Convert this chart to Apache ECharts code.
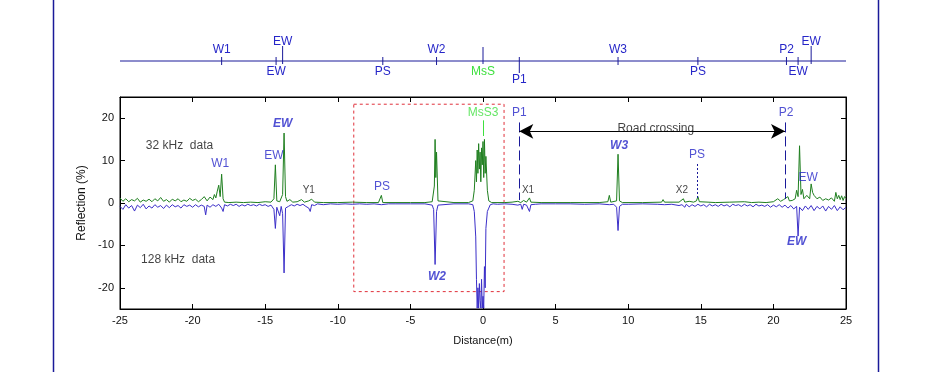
<!DOCTYPE html>
<html><head><meta charset="utf-8">
<script src="https://cdn.jsdelivr.net/npm/echarts@6/dist/echarts.min.js"></script>
<style>html,body{margin:0;padding:0;background:#fff}#c{width:933px;height:372px}</style>
</head><body><div id="c"></div>
<script>
// ---- data ----
const xTicks = [-25,-20,-15,-10,-5,0,5,10,15,20,25];
const yTicks = [-20,-10,0,10,20];

// 32 kHz data [distance m, reflection %]
const data32 = [
[-25,1.2],[-24.8,0.4],[-24.6,1.0],[-24.4,0.3],[-24.2,0.8],[-24,0.5],[-23.8,1.1],[-23.6,0.2],[-23.4,0.7],[-23.2,0.4],
[-23,0.9],[-22.8,0.3],[-22.6,1.0],[-22.4,0.5],[-22.2,1.3],[-22,0.4],[-21.8,0.8],[-21.6,0.2],[-21.4,0.9],[-21.2,0.5],
[-21,1.0],[-20.8,0.3],[-20.6,0.7],[-20.4,0.4],[-20.2,1.1],[-20,0.6],[-19.8,0.9],[-19.6,0.3],[-19.4,0.8],[-19.2,1.5],
[-19,0.5],[-18.8,1.4],[-18.6,0.8],[-18.5,2.0],[-18.4,1.2],[-18.3,2.8],[-18.2,4.2],[-18.1,1.5],[-18,6.8],[-17.9,1.0],
[-17.8,0.2],[-17.5,0.1],[-17,0.2],[-16.5,0.1],[-16,0.2],[-15.5,0.1],[-15,0.3],[-14.6,0.2],[-14.4,1.0],[-14.3,9.0],
[-14.2,0.5],[-14,0.3],[-13.8,2.0],[-13.7,16.5],[-13.6,1.5],[-13.5,0.4],[-13.3,0.8],[-13.1,0.2],[-12.8,0.3],[-12.5,0.8],
[-12.3,0.2],[-12,0.5],[-11.8,0.9],[-11.6,0.2],[-11,0.1],[-10,0.1],[-9,0.2],[-8,0.1],[-7.2,0.1],[-7,1.8],
[-6.9,0.1],[-5,0.1],[-4,0.1],[-3.5,0.3],[-3.35,4],[-3.3,15],[-3.25,6],[-3.2,12],[-3.1,0.5],[-3,0.1],
[-2,0.1],[-1,0.1],[-0.7,0.5],[-0.6,3],[-0.5,10],[-0.45,5],[-0.4,12.5],[-0.35,7],[-0.3,14],[-0.25,8],
[-0.2,12],[-0.15,5],[-0.1,13],[-0.05,9],[0,14.5],[0.05,6],[0.1,15],[0.15,7],[0.2,11],[0.3,3],
[0.4,0.5],[0.6,0.1],[1.5,0.1],[2,0.2],[2.4,0.4],[2.6,0.1],[2.8,0.6],[3,0.2],[3.2,1.2],[3.3,0.2],
[4,0.1],[6,0.1],[8,0.1],[8.6,0.3],[8.7,1.8],[8.8,0.2],[9.2,0.5],[9.3,11.5],[9.4,0.5],[9.6,0.1],
[11,0.1],[12.3,0.2],[12.4,0.8],[12.5,0.2],[13.5,0.2],[13.8,1.0],[13.9,0.2],[14.2,0.4],[14.5,0.2],[14.7,0.5],
[14.8,1.5],[14.9,0.3],[15.5,0.2],[16,0.1],[17,0.2],[18,0.3],[18.5,0.1],[19,0.2],[19.5,0.1],[20,0.3],
[20.3,1.0],[20.5,0.4],[20.7,0.8],[21,1.5],[21.1,0.5],[21.3,0.6],[21.5,1.0],[21.6,3.0],[21.7,1.5],[21.8,13.5],
[21.9,2.0],[22,3.2],[22.1,1.0],[22.3,1.8],[22.5,1.0],[22.6,4.5],[22.7,2.5],[22.8,1.8],[23,1.0],[23.2,1.4],
[23.4,0.6],[23.6,1.0],[23.8,0.7],[24,1.2],[24.2,0.4],[24.3,2.5],[24.4,1.0],[24.5,1.8],[24.6,0.8],[24.7,1.7],
[24.8,0.6],[24.9,1.5],[25,1.2]
];

// 128 kHz data [distance m, reflection %]
const data128 = [
[-25,-0.8],[-24.8,-1.5],[-24.6,-0.4],[-24.4,-1.2],[-24.2,-0.6],[-24,-1.9],[-23.8,-0.5],[-23.6,-1.1],[-23.4,-0.3],[-23.2,-1.4],
[-23,-0.7],[-22.8,-1.2],[-22.6,-0.4],[-22.4,-1.0],[-22.2,-0.6],[-22,-1.3],[-21.8,-0.5],[-21.6,-1.1],[-21.4,-0.4],[-21.2,-0.9],
[-21,-0.6],[-20.8,-1.2],[-20.6,-0.4],[-20.4,-0.8],[-20.2,-0.5],[-20,-1.0],[-19.8,-0.4],[-19.6,-0.9],[-19.4,-0.5],[-19.2,-0.8],
[-19.1,-2.8],[-19,-0.5],[-18.8,-1.0],[-18.6,-0.4],[-18.4,-0.8],[-18.2,-0.3],[-18,-1.2],[-17.9,-2.0],[-17.8,-0.4],[-17.6,-0.7],
[-17.4,-0.3],[-17.2,-0.6],[-17,-0.3],[-16.8,-0.8],[-16.6,-0.4],[-16.4,-0.7],[-16.2,-0.3],[-16,-0.6],[-15.8,-0.4],[-15.6,-0.7],
[-15.4,-0.3],[-15.2,-0.6],[-15,-0.4],[-14.8,-0.8],[-14.6,-0.5],[-14.4,-1.5],[-14.3,-6.0],[-14.2,-1.0],[-14,-3.0],[-13.9,-0.8],
[-13.8,-2.5],[-13.7,-16.5],[-13.6,-1.2],[-13.4,-0.8],[-13.2,-0.4],[-13,-0.7],[-12.8,-0.3],[-12.6,-0.6],[-12.4,-0.3],[-12.2,-0.8],
[-12,-1.2],[-11.9,-2.0],[-11.8,-0.4],[-11.6,-0.6],[-11.4,-0.2],[-11,-0.4],[-10.5,-0.2],[-10,-0.3],[-9.5,-0.2],[-9,-0.3],
[-8.5,-0.2],[-8,-0.3],[-7.5,-0.2],[-7,-0.4],[-6.5,-0.2],[-6,-0.2],[-5,-0.2],[-4,-0.2],[-3.5,-0.5],[-3.4,-1.5],
[-3.3,-14.5],[-3.2,-2.0],[-3.1,-0.5],[-3,-0.2],[-2,-0.2],[-1,-0.2],[-0.7,-0.4],[-0.6,-2],[-0.5,-8],[-0.45,-18],
[-0.4,-24.8],[-0.35,-20],[-0.3,-24.8],[-0.25,-19],[-0.2,-23],[-0.15,-24.8],[-0.1,-18],[-0.05,-24.8],[0,-22],[0.05,-24.8],[0.1,-15],
[0.15,-20],[0.2,-6],[0.3,-2],[0.4,-1.2],[0.5,-0.4],[0.7,-0.2],[1,-0.3],[1.5,-0.2],[2,-0.3],[2.4,-0.5],
[2.6,-0.3],[2.7,-1.5],[2.8,-0.3],[3,-0.5],[3.2,-2.0],[3.3,-0.4],[3.6,-0.3],[4,-0.2],[5,-0.2],[6,-0.2],
[7,-0.3],[8,-0.2],[8.7,-0.4],[9,-0.3],[9.2,-1.0],[9.3,-6.5],[9.4,-0.8],[9.6,-0.3],[10,-0.3],[11,-0.2],
[12,-0.3],[12.5,-0.4],[13,-0.3],[13.5,-0.6],[13.7,-0.4],[13.9,-1.0],[14,-0.3],[14.2,-0.9],[14.4,-0.4],[14.6,-0.8],
[14.8,-0.3],[15,-0.7],[15.2,-0.4],[15.4,-0.9],[15.6,-0.3],[15.8,-0.7],[16,-0.4],[16.2,-0.8],[16.4,-0.3],[16.6,-0.7],
[16.8,-0.4],[17,-0.9],[17.2,-0.3],[17.4,-0.6],[17.6,-0.4],[17.8,-0.8],[18,-0.3],[18.2,-0.7],[18.4,-0.4],[18.6,-0.9],
[18.8,-0.3],[19,-0.7],[19.2,-0.5],[19.4,-0.8],[19.6,-0.4],[19.8,-1.0],[20,-0.5],[20.2,-0.9],[20.4,-0.4],[20.6,-1.0],
[20.8,-0.5],[21,-1.2],[21.2,-0.6],[21.4,-1.4],[21.6,-0.8],[21.7,-7.8],[21.8,-1.0],[22,-1.8],[22.2,-0.7],[22.4,-1.5],
[22.6,-0.6],[22.8,-1.8],[23,-0.8],[23.2,-1.4],[23.4,-0.7],[23.6,-1.9],[23.8,-0.8],[24,-1.5],[24.2,-0.6],[24.4,-1.8],
[24.6,-0.9],[24.8,-1.6],[25,-1.0]
];

// top schematic features
const topNames = ['W1','EW','EW','PS','W2','MsS','P1','W3','PS','P2','EW','EW'];
const topDist  = [-18.0,-14.25,-13.8,-6.9,-3.2,0,2.5,9.3,14.8,20.9,21.7,22.6];
const topKind  = ['a','b','L','b','a','M','D','a','b','a','b','L'];

// annotations in the plot [text, distance, reflection]
const annText  = ['32 kHz  data','128 kHz  data','W1','EW','EW','Y1','PS','W2','MsS3','P1','X1','W3','PS','X2','P2','EW','EW','Road crossing'];
const annX     = [-20.9,-21.0,-18.1,-14.4,-13.8,-12.0,-6.96,-3.17,0,2.5,3.1,9.37,14.74,13.7,20.87,22.4,21.6,11.9];
const annY     = [13.6,-13.4,9.2,11.1,18.6,3.1,3.8,-17.4,21.2,21.2,3.1,13.6,11.5,3.1,21.2,5.9,-9.2,17.6];
const annKind  = ['k','k','b','b','bi','s','b','bi','g','b','s','bi','b','s','b','b','bi','k'];

const box = {x0:-8.9, x1:1.45, y0:23.3, y1:-20.9};
const road = {x0:2.5, x1:20.8, y:16.9};
const pipeMarks = [[2.5,19,0.7],[20.85,19,1.0]];
const psMark = [14.75,9.2,0.7];
const mssMark = [0,19.5,15.8];

// ---- chart ----
const BLUE='#2626c8', GREEN='#1f7f1f', NAVY='#1a1a99', LGREEN='#3ee03e', TRACE_BLUE='#3b2fc8';
const FONT='"Liberation Sans", Arial, sans-serif';
const chart = echarts.init(document.getElementById('c'), null, {renderer:'canvas'});

const kindStyle = {
  k:{color:'#111', fontSize:12},
  s:{color:'#111', fontSize:10},
  b:{color:BLUE, fontSize:12},
  bi:{color:BLUE, fontSize:12, fontWeight:'bold', fontStyle:'italic'},
  g:{color:LGREEN, fontSize:12}
};
const annData = annText.map((t,i)=>({
  value:[annX[i], annY[i]],
  label:Object.assign({show:true, formatter:t, position:'inside', fontFamily:FONT}, kindStyle[annKind[i]])
}));

const tickGeom = {a:[4,-4,11], b:[4,-4,-11], L:[15,-3,19], M:[14,-3,-11], D:[4,-12,-19]};
const topData = topDist.map((d,i)=>[d, i]);

const axLine = {show:true, onZero:false, lineStyle:{color:'#000'}};

const option = {
  animation:false,
  backgroundColor:'#ffffff',
  grid:[
    {left:120, right:87, top:97, bottom:63, show:true, borderColor:'#000', borderWidth:1, backgroundColor:'transparent'},
    {left:120, right:87, top:37, height:48, show:false}
  ],
  xAxis:[
    {gridIndex:0, type:'value', min:-25, max:25, interval:5, position:'bottom',
     name:'Distance(m)', nameLocation:'middle', nameGap:26,
     nameTextStyle:{color:'#111', fontSize:11, fontFamily:FONT},
     axisLine:axLine,
     axisTick:{show:true, inside:true, length:5, lineStyle:{color:'#000'}},
     axisLabel:{color:'#111', fontSize:11, fontFamily:FONT, margin:6},
     splitLine:{show:false}},
    {gridIndex:1, type:'value', min:-25, max:25, show:false},
    {gridIndex:0, type:'value', min:-25, max:25, interval:5, position:'top',
     axisLine:axLine,
     axisTick:{show:true, inside:true, length:5, lineStyle:{color:'#000'}},
     axisLabel:{show:false}, splitLine:{show:false}}
  ],
  yAxis:[
    {gridIndex:0, type:'value', min:-25, max:25, position:'left',
     name:'Reflection (%)', nameLocation:'middle', nameGap:28,
     nameTextStyle:{color:'#111', fontSize:12, fontFamily:FONT},
     axisLine:axLine,
     axisTick:{show:true, inside:true, length:5, customValues:yTicks, lineStyle:{color:'#000'}},
     axisLabel:{color:'#111', fontSize:11, fontFamily:FONT, customValues:yTicks, margin:6},
     splitLine:{show:false}},
    {gridIndex:1, type:'value', min:-24, max:24, show:false},
    {gridIndex:0, type:'value', min:-25, max:25, position:'right',
     axisLine:axLine,
     axisTick:{show:true, inside:true, length:5, customValues:yTicks, lineStyle:{color:'#000'}},
     axisLabel:{show:false}, splitLine:{show:false}}
  ],
  series:[
    {type:'line', name:'32 kHz', xAxisIndex:0, yAxisIndex:0, data:data32, showSymbol:false,
     lineStyle:{color:GREEN, width:1}, itemStyle:{color:GREEN}, z:3,
     markArea:{silent:true, itemStyle:{color:'rgba(0,0,0,0)', borderColor:'#e0303a', borderType:[3,3], borderWidth:1},
       data:[[{coord:[box.x0, box.y0]},{coord:[box.x1, box.y1]}]]}
    },
    {type:'line', name:'128 kHz', xAxisIndex:0, yAxisIndex:0, data:data128, showSymbol:false,
     lineStyle:{color:TRACE_BLUE, width:1}, itemStyle:{color:TRACE_BLUE}, z:2,
     markLine:{silent:true, symbol:['none','none'], label:{show:false},
       data:[
         [{coord:[pipeMarks[0][0],pipeMarks[0][1]], lineStyle:{color:NAVY, type:[10,4], width:1}},{coord:[pipeMarks[0][0],pipeMarks[0][2]]}],
         [{coord:[pipeMarks[1][0],pipeMarks[1][1]], lineStyle:{color:NAVY, type:[10,4], width:1}},{coord:[pipeMarks[1][0],pipeMarks[1][2]]}],
         [{coord:[psMark[0],psMark[1]], lineStyle:{color:NAVY, type:[2,2], width:1}},{coord:[psMark[0],psMark[2]]}],
         [{coord:[mssMark[0],mssMark[1]], lineStyle:{color:LGREEN, type:'solid', width:1}},{coord:[mssMark[0],mssMark[2]]}]
       ]}
    },
    {type:'line', xAxisIndex:0, yAxisIndex:0, data:[], silent:true,
     markLine:{silent:true, symbol:['arrow','arrow'], symbolSize:[11,14], label:{show:false},
       lineStyle:{color:'#000', type:'solid', width:1},
       data:[[{coord:[road.x0, road.y]},{coord:[road.x1, road.y]}]]}
    },
    {type:'scatter', xAxisIndex:0, yAxisIndex:0, data:annData, symbolSize:0, silent:true, z:5},
    {type:'line', xAxisIndex:1, yAxisIndex:1, data:[[-25,0],[25,0]], showSymbol:false,
     lineStyle:{color:NAVY, width:1}, silent:true},
    {type:'custom', xAxisIndex:1, yAxisIndex:1, data:topData, silent:true,
     renderItem:function(params, api){
       const i = params.dataIndex;
       const d = api.value(0);
       const g = tickGeom[topKind[i]];
       const p0 = api.coord([d, g[0]]), p1 = api.coord([d, g[1]]), pl = api.coord([d, g[2]]);
       return {type:'group', children:[
         {type:'line', shape:{x1:p0[0], y1:p0[1], x2:p1[0], y2:p1[1]}, style:{stroke:NAVY, lineWidth:1}},
         {type:'text', x:pl[0], y:pl[1], style:{text:topNames[i], fill: topKind[i]==='M'?LGREEN:BLUE,
           font:'12px '+FONT, align:'center', verticalAlign:'middle'}}
       ]};
     }}
  ],
  graphic:[
    {type:'line', shape:{x1:53.5, y1:0, x2:53.5, y2:372}, style:{stroke:NAVY, lineWidth:1.5}, silent:true},
    {type:'line', shape:{x1:878.5, y1:0, x2:878.5, y2:372}, style:{stroke:NAVY, lineWidth:1.5}, silent:true}
  ]
};
chart.setOption(option);
</script></body></html>
